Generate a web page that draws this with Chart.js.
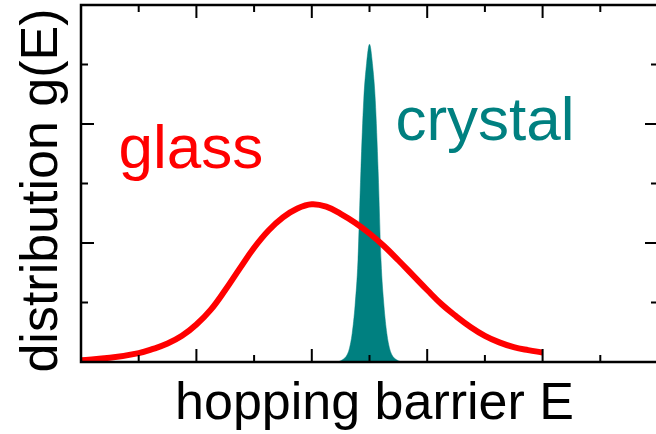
<!DOCTYPE html>
<html>
<head>
<meta charset="utf-8">
<script src="https://cdn.jsdelivr.net/npm/chart.js@4"></script>
<style>
  html, body { margin: 0; padding: 0; background: #fff; overflow: hidden; }
</style>
</head>
<body>
<canvas id="chart" width="660" height="434"></canvas>
<script>
/* distribution des barrières : verre vs cristal */

// courbe "glass" (rouge)
const glassE = [0, 0.5, 1, 1.25, 1.5, 1.75, 2, 2.25, 2.5, 2.75, 3, 3.25, 3.5, 3.75, 4,
  4.25, 4.5, 4.75, 5, 5.25, 5.5, 5.75, 6, 6.25, 6.5, 6.75, 7, 7.25, 7.5, 7.75, 8];
const glassG = [0.03, 0.07, 0.15, 0.22, 0.31, 0.44, 0.63, 0.88, 1.21, 1.57, 1.92, 2.21, 2.43, 2.58, 2.65,
  2.61, 2.49, 2.34, 2.16, 1.95, 1.71, 1.46, 1.21, 0.97, 0.77, 0.59, 0.44, 0.33, 0.25, 0.20, 0.16];

// pic "crystal" (sarcelle), rempli
const crystalE = [4.45, 4.5, 4.55, 4.6, 4.65, 4.7, 4.75, 4.8, 4.85, 4.9, 4.95, 5,
  5.05, 5.1, 5.15, 5.2, 5.25, 5.3, 5.35, 5.4, 5.45, 5.5, 5.55];
const crystalG = [0, 0.02, 0.05, 0.10, 0.22, 0.48, 0.95, 1.70, 3.20, 4.40, 5.02, 5.34,
  5.02, 4.40, 3.20, 1.70, 0.95, 0.48, 0.22, 0.10, 0.05, 0.02, 0];

// graduations (sans étiquettes) – les paires sont les grandes
const xTicks = [1, 2, 3, 4, 5, 6, 7, 8, 9];
const yTicks = [1, 2, 3, 4, 5];

// textes
const xTitle = "hopping barrier E";
const yTitle = "distribution g(E)";
const labels = [
  { text: "glass", x: 0.65, y: 3.26, color: "#ff0000" },
  { text: "crystal", x: 5.45, y: 3.73, color: "#008080" }
];

const FONT = "'Liberation Sans', Arial, sans-serif";

function toPoints(xs, ys) {
  return xs.map((x, i) => ({ x, y: ys[i] }));
}

/* cadre, graduations intérieures et textes */
const framePlugin = {
  id: "frame",
  afterDatasetsDraw(chart) {
    const { ctx, chartArea: a, scales: { x, y } } = chart;
    ctx.save();
    ctx.strokeStyle = "#000";
    ctx.lineWidth = 2.5;
    ctx.strokeRect(a.left, a.top, a.right - a.left, a.bottom - a.top);

    ctx.lineWidth = 2;
    ctx.beginPath();
    xTicks.forEach(v => {
      const px = x.getPixelForValue(v);
      const len = v % 2 === 0 ? 13 : 7;
      ctx.moveTo(px, a.bottom); ctx.lineTo(px, a.bottom - len);
      ctx.moveTo(px, a.top); ctx.lineTo(px, a.top + len);
    });
    yTicks.forEach(v => {
      const py = y.getPixelForValue(v);
      const len = v % 2 === 0 ? 13 : 7;
      ctx.moveTo(a.left, py); ctx.lineTo(a.left + len, py);
      ctx.moveTo(a.right, py); ctx.lineTo(a.right - len, py);
    });
    ctx.stroke();

    // étiquettes des courbes
    ctx.font = "62px " + FONT;
    ctx.textBaseline = "alphabetic";
    ctx.textAlign = "left";
    labels.forEach(l => {
      ctx.fillStyle = l.color;
      ctx.fillText(l.text, x.getPixelForValue(l.x), y.getPixelForValue(l.y));
    });

    // titres des axes
    ctx.fillStyle = "#000";
    ctx.font = "52px " + FONT;
    ctx.textAlign = "center";
    ctx.fillText(xTitle, (a.left + a.right) / 2 + 5, 419);
    ctx.translate(57, (a.top + a.bottom) / 2 + 7);
    ctx.rotate(-Math.PI / 2);
    ctx.fillText(yTitle, 0, 0);
    ctx.restore();
  }
};

new Chart(document.getElementById("chart"), {
  type: "line",
  data: {
    datasets: [
      {
        label: "glass",
        data: toPoints(glassE, glassG),
        borderColor: "#ff0000",
        borderWidth: 6,
        borderCapStyle: "butt",
        pointRadius: 0,
        tension: 0.4,
        fill: false,
        order: 0
      },
      {
        label: "crystal",
        data: toPoints(crystalE, crystalG),
        borderColor: "#008080",
        backgroundColor: "#008080",
        borderWidth: 0.5,
        pointRadius: 0,
        cubicInterpolationMode: "monotone",
        fill: "origin",
        order: 1
      }
    ]
  },
  options: {
    responsive: false,
    animation: false,
    layout: { padding: { top: 5, right: 2, left: 0, bottom: 0 } },
    plugins: { legend: { display: false }, tooltip: { enabled: false } },
    scales: {
      x: {
        type: "linear", min: 0, max: 10,
        ticks: { display: false },
        grid: { display: false },
        border: { display: false },
        afterFit: s => { s.height = 72; }
      },
      y: {
        type: "linear", min: 0, max: 6,
        ticks: { display: false },
        grid: { display: false },
        border: { display: false },
        afterFit: s => { s.width = 81; }
      }
    }
  },
  plugins: [framePlugin]
});
</script>
</body>
</html>
